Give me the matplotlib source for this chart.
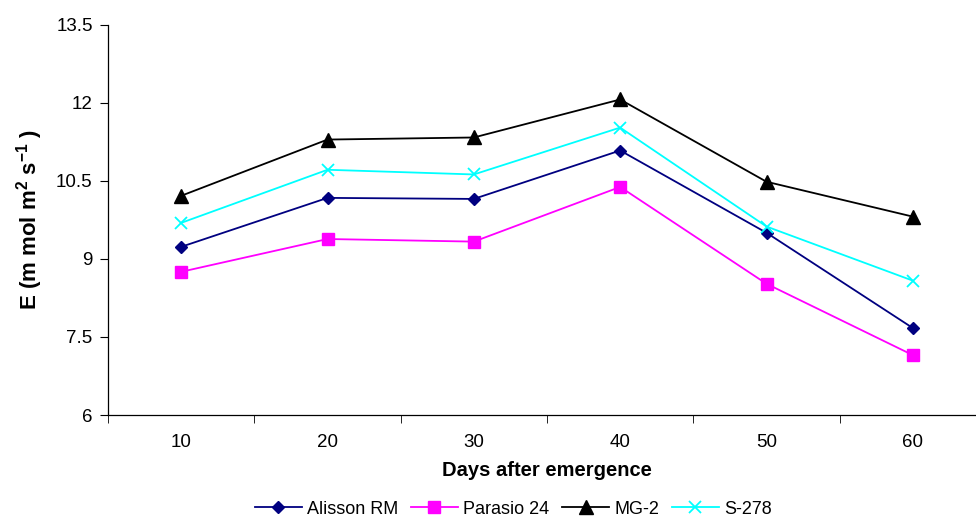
import matplotlib.pyplot as plt
import numpy as np

dias = [10, 20, 30, 40, 50, 60]
alisson = [9.23, 10.17, 10.15, 11.08, 9.50, 7.67]
parasio = [8.75, 9.38, 9.33, 10.38, 8.52, 7.15]
mg2 = [10.21, 11.29, 11.33, 12.06, 10.48, 9.81]
s278 = [9.69, 10.71, 10.62, 11.52, 9.62, 8.58]

yticks = [6, 7.5, 9, 10.5, 12, 13.5]

plt.rcParams['font.family'] = ['Liberation Sans', 'DejaVu Sans']

fig = plt.figure(figsize=(9.76, 5.2), dpi=100)
ax = fig.add_axes([108/976, 1-415/520, 878/976, (415-24.5)/520])

x = np.arange(1, len(dias) + 1)
ax.plot(x, alisson, color='#000080', marker='D', markersize=6, lw=1.3, label='Alisson RM')
ax.plot(x, parasio, color='#FF00FF', marker='s', markersize=9, lw=1.3, label='Parasio 24')
ax.plot(x, mg2, color='black', marker='^', markersize=10, lw=1.3, label='MG-2')
ax.plot(x, s278, color='#00FFFF', marker='x', markersize=8, mew=1.3, lw=1.3, label='S-278')

ax.set_xlim(0.5, len(dias) + 0.5)
ax.set_ylim(6, 13.5)
ax.set_yticks(yticks)
ax.set_yticklabels(['6', '7.5', '9', '10.5', '12', '13.5'], fontsize=13.5)
ax.set_xticks(x)
ax.set_xticklabels([str(d) for d in dias], fontsize=13.5)
ax.tick_params(axis='x', which='major', length=0, pad=14)
ax.set_xticks(np.arange(0.5, len(dias) + 1, 1), minor=True)
ax.tick_params(axis='x', which='minor', length=6, direction='out')
ax.tick_params(axis='y', length=6, direction='out', pad=5)

for s in ['top', 'right']:
    ax.spines[s].set_visible(False)
ax.spines['left'].set_linewidth(0.9)
ax.spines['bottom'].set_linewidth(0.9)

ax.set_xlabel('Days after emergence', fontsize=14.5, fontweight='bold', labelpad=7)
ax.set_ylabel(r'E (m mol m$^{\mathregular{2}}$ s$^{\mathregular{-1}}$ )', fontsize=16, fontweight='bold', labelpad=8)

fig.legend(loc='lower center', bbox_to_anchor=(0.526, -0.027), ncol=4, frameon=False,
           fontsize=13, handlelength=2.6, columnspacing=0.7, handletextpad=0.3)

fig.savefig('out.png', dpi=100)
